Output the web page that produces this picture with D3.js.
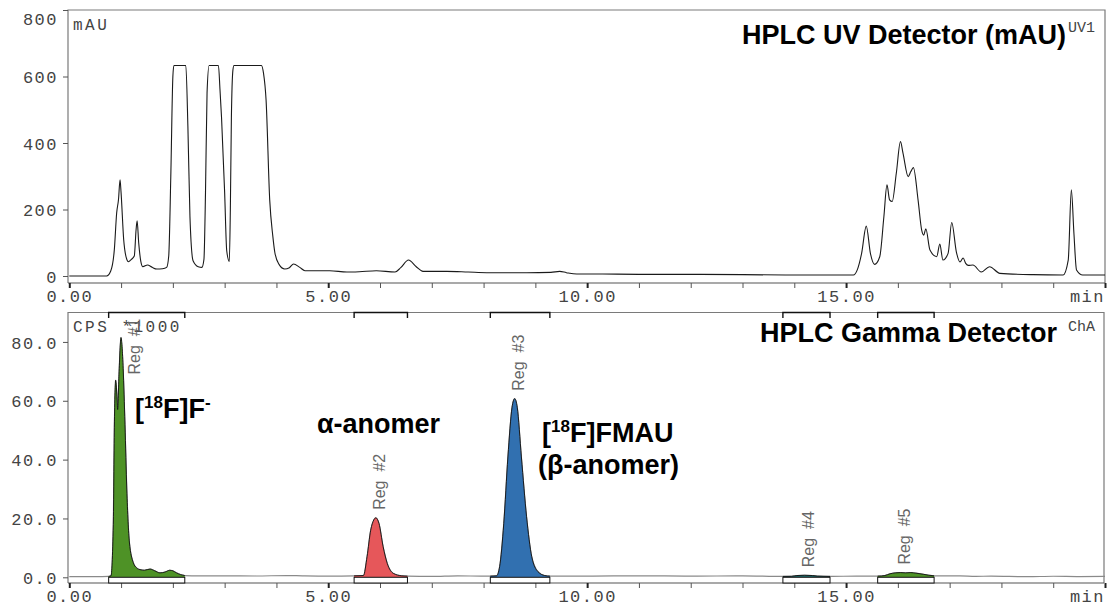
<!DOCTYPE html>
<html>
<head>
<meta charset="utf-8">
<script src="https://cdn.jsdelivr.net/npm/d3@7"></script>
<style>
  body { margin: 0; background: #fff; }
  svg { display: block; }
  .mono { font-family: "Liberation Mono", "DejaVu Sans Mono", monospace; }
  .big { font-family: "Liberation Sans", Arial, sans-serif; font-weight: bold; fill: #000; }
</style>
</head>
<body>
<svg id="chart" width="1109" height="606"></svg>
<script>
// ---- UV detector trace: retention time (min) and absorbance (mAU) ----
const uvTime = [0, 0.5, 0.72, 0.8, 0.87, 0.915, 0.95, 0.98, 1.0, 1.05, 1.1, 1.14, 1.2, 1.255, 1.29, 1.31, 1.34, 1.38, 1.42,
  1.51, 1.6, 1.69, 1.8, 1.88, 1.92, 1.96, 2.0, 2.02, 2.25, 2.29, 2.33, 2.39, 2.49, 2.56, 2.6, 2.63, 2.66, 2.70, 2.88, 2.91,
  2.94, 3.0, 3.04, 3.09, 3.11, 3.13, 3.16, 3.18, 3.71, 3.75, 3.80, 3.87, 3.93, 3.97, 4.05, 4.16, 4.25, 4.33, 4.45, 4.55,
  5.03, 5.36, 5.6, 5.93, 6.29, 6.4, 6.55, 6.7, 6.83, 7.29, 7.7, 8.06, 8.83, 9.3, 9.47, 9.6, 9.8, 10.25, 11, 12, 13, 14,
  15.14, 15.22, 15.30, 15.39, 15.47, 15.55, 15.65, 15.73, 15.79, 15.84, 15.89, 15.97, 16.05, 16.10, 16.20, 16.25, 16.30,
  16.39, 16.46, 16.50, 16.54, 16.62, 16.75, 16.81, 16.87, 16.97, 17.04, 17.13, 17.20, 17.26, 17.31, 17.36, 17.45, 17.61,
  17.77, 17.97, 18.61, 19.19, 19.29, 19.35, 19.40, 19.45, 19.57, 20];
const uvSignal = [0, 0, 0, 15, 80, 190, 230, 289, 250, 110, 55, 43, 50, 60, 140, 166, 100, 45, 28,
  33, 26, 21, 22, 26, 60, 300, 600, 633, 633, 450, 178, 46, 28, 26, 50, 250, 550, 633, 633, 560,
  476, 250, 76, 44, 200, 476, 620, 633, 633, 610, 529, 229, 120, 70, 35, 21, 25, 36, 26, 16,
  16, 12, 13, 16, 12, 25, 48, 28, 14, 14, 12, 10, 10, 11, 14, 10, 6, 6, 5, 5, 4, 3,
  3, 20, 68, 150, 68, 35, 58, 178, 274, 229, 224, 309, 404, 369, 299, 314, 326,
  229, 138, 123, 142, 78, 58, 96, 48, 68, 161, 72, 42, 54, 38, 32, 33, 12,
  28, 8, 4, 3, 48, 259, 128, 18, 3, 3];

// ---- Gamma detector trace: retention time (min) and count rate (CPS x1000) ----
const gammaTime = [0, 0.5, 0.76, 0.805, 0.85, 0.87, 0.895, 0.915, 0.934, 0.96, 0.998, 1.04, 1.075, 1.11, 1.16, 1.235,
  1.3, 1.365, 1.45, 1.56, 1.65, 1.75, 1.85, 1.94, 2.0, 2.07, 2.15, 2.23, 2.5, 3.0, 3.6, 4.2, 4.5, 5.0,
  5.5, 5.68, 5.75, 5.82, 5.88, 5.92, 5.98, 6.06, 6.14, 6.26, 6.42, 6.53, 7.0, 7.5, 8.0,
  8.13, 8.25, 8.31, 8.39, 8.47, 8.55, 8.60, 8.65, 8.73, 8.83, 8.93, 9.05, 9.18, 9.28, 10, 11, 12, 13,
  13.78, 13.95, 14.05, 14.2, 14.35, 14.45, 14.69, 15.2,
  15.61, 15.75, 15.85, 15.95, 16.05, 16.15, 16.25, 16.35, 16.5, 16.6, 16.70, 17.2, 17.5, 17.8, 18.5, 19.0, 19.5, 20];
const gammaSignal = [0.2, 0.2, 0.3, 0.5, 18, 51, 67, 63, 57, 69, 81.5, 71, 52, 30, 12, 5,
  3.2, 2.6, 2.4, 2.8, 2.2, 1.5, 1.8, 2.4, 2.2, 1.5, 0.9, 0.6, 0.5, 0.5, 0.45, 0.6, 0.5, 0.4,
  0.5, 0.6, 7, 16, 19.5, 20.2, 18.3, 10.4, 4.7, 1.3, 0.5, 0.4, 0.3, 0.5, 0.4,
  0.4, 0.5, 3.6, 18.3, 40.9, 57.8, 60.7, 57.8, 40.9, 20.6, 7, 1.9, 0.6, 0.4, 0.4, 0.5, 0.4, 0.5,
  0.3, 0.35, 0.6, 0.7, 0.6, 0.4, 0.3, 0.4,
  0.4, 0.6, 1.2, 1.5, 1.6, 1.5, 1.6, 1.4, 1.0, 0.7, 0.5, 0.5, 0.3, 0.4, 0.2, 0.35, 0.25, 0.3];

// ---- Integration regions ----
const regionLabels = ["Reg  #1", "Reg  #2", "Reg  #3", "Reg  #4", "Reg  #5"];
const regionStart = [0.76, 5.50, 8.13, 13.78, 15.61];
const regionEnd = [2.23, 6.53, 9.28, 14.69, 16.70];

// ---- Axis ticks ----
const uvTicks = [0, 200, 400, 600, 800];
const gammaTicks = [0, 20, 40, 60, 80];
const timeUnit = "min";

// region fill colours
const regionFill = ["#4e9226", "#e6575a", "#3170b0", "#1d6b6b", "#4e9226"];

const svg = d3.select("#chart");
const frameColor = "#7a7a7a";
const textGray = "#444";
const tickFont = 17;

const x = d3.scaleLinear().domain([0, 20]).range([69.3, 1105]);
const yU = d3.scaleLinear().domain([0, 800]).range([276, 10]);
const yG = d3.scaleLinear().domain([0, 90]).range([577.3, 312.5]);

function frame(g, top, bottom, right) {
  g.append("path")
    .attr("d", `M68,${bottom}V${top}H${right}V${bottom}`)
    .attr("fill", "none").attr("stroke", frameColor).attr("stroke-width", 1.2);
  g.append("line")
    .attr("x1", 68).attr("x2", right).attr("y1", bottom).attr("y2", bottom)
    .attr("stroke", "#555").attr("stroke-width", 1.2);
}

function timeAxis(g, yPos) {
  const ax = d3.axisBottom(x)
    .tickValues(d3.range(0, 21, 1))
    .tickSize(5)
    .tickPadding(2)
    .tickFormat(d => (d % 5 === 0 && d < 20) ? d.toFixed(2) : "");
  const a = g.append("g").attr("transform", `translate(0,${yPos})`).call(ax);
  a.select(".domain").remove();
  a.selectAll(".tick line")
    .attr("stroke", d => d % 5 === 0 ? "#222" : "#555")
    .attr("stroke-width", d => d % 5 === 0 ? 2 : 1);
  a.selectAll(".tick text")
    .attr("class", "mono").attr("fill", textGray)
    .style("font-size", tickFont + "px").style("letter-spacing", "1.5px");
  g.append("text").attr("class", "mono")
    .attr("x", 1105).attr("y", yPos + 7).attr("dy", "0.71em")
    .attr("text-anchor", "end").attr("fill", textGray)
    .style("font-size", tickFont + "px").style("letter-spacing", "1.5px")
    .text(timeUnit);
}

function valueAxis(g, scale, ticks, fmt, top) {
  const ax = d3.axisLeft(scale).tickValues(ticks).tickSize(5).tickPadding(5).tickFormat(fmt);
  const a = g.append("g").attr("transform", "translate(68,0)").call(ax);
  a.select(".domain").remove();
  a.selectAll(".tick line").attr("stroke", "#555");
  a.selectAll(".tick text")
    .attr("class", "mono").attr("fill", textGray)
    .style("font-size", tickFont + "px").style("letter-spacing", "1.5px")
    .attr("dy", "0.36em");
  // keep the topmost label inside the frame
  a.selectAll(".tick").each(function (d) {
    const yy = scale(d);
    if (yy < top + 8) d3.select(this).select("text").attr("y", top + 8 - yy);
  });
}

// ================= UV panel =================
const gU = svg.append("g");
frame(gU, 10, 283, 1105);
timeAxis(gU, 283);
valueAxis(gU, yU, uvTicks, d3.format(".0f"), 10);

const uvLine = d3.line()
  .x((d, i) => x(uvTime[i]))
  .y(d => yU(d))
  .curve(d3.curveMonotoneX);
gU.append("path")
  .attr("d", uvLine(uvSignal))
  .attr("fill", "none").attr("stroke", "#1a1a1a").attr("stroke-width", 1.1);

gU.append("text").attr("class", "mono").attr("x", 73).attr("y", 30)
  .attr("fill", textGray).style("font-size", "16px").style("letter-spacing", "2.5px").text("mAU");
gU.append("text").attr("class", "big").attr("x", 1066).attr("y", 44)
  .attr("text-anchor", "end").style("font-size", "27px").text("HPLC UV Detector (mAU)");
gU.append("text").attr("class", "mono").attr("x", 1068).attr("y", 32)
  .attr("fill", textGray).style("font-size", "15px").text("UV1");

// ================= Gamma panel =================
const gG = svg.append("g");
frame(gG, 312.5, 583, 1104);
timeAxis(gG, 583);
valueAxis(gG, yG, gammaTicks, d3.format(".1f"), 312.5);

const gammaPts = gammaTime.map((t, i) => ({ t, v: gammaSignal[i] }));
const gLine = d3.line().x(d => x(d.t)).y(d => yG(d.v)).curve(d3.curveMonotoneX);
const gArea = d3.area().x(d => x(d.t)).y0(yG(0)).y1(d => yG(d.v)).curve(d3.curveMonotoneX);

gG.append("path")
  .attr("d", gLine(gammaPts))
  .attr("fill", "none").attr("stroke", "#8a8a8a").attr("stroke-width", 1.2);

gG.append("text").attr("class", "mono").attr("x", 73).attr("y", 332)
  .attr("fill", textGray).style("font-size", "16px").style("letter-spacing", "2.5px")
  .style("white-space", "pre").text("CPS *1000");

regionLabels.forEach((lab, k) => {
  const pts = gammaPts.filter(p => p.t >= regionStart[k] - 1e-9 && p.t <= regionEnd[k] + 1e-9);
  gG.append("path").attr("d", gArea(pts)).attr("fill", regionFill[k]);
  gG.append("path").attr("d", gLine(pts))
    .attr("fill", "none").attr("stroke", "#111").attr("stroke-width", 0.9);

  const x0 = x(regionStart[k]), x1 = x(regionEnd[k]);
  // bracket along the top edge
  gG.append("path")
    .attr("d", `M${x0},318V312.5H${x1}V318`)
    .attr("fill", "none").attr("stroke", "#111").attr("stroke-width", 1.4);
  // marker box on the baseline
  gG.append("rect")
    .attr("x", x0).attr("y", yG(0)).attr("width", x1 - x0).attr("height", 583 - yG(0))
    .attr("fill", "#fff").attr("stroke", "#111").attr("stroke-width", 1);

  // label above the apex
  const apex = pts.reduce((a, b) => (b.v > a.v ? b : a));
  const t = gG.append("text")
    .style("font-family", "Liberation Sans, Arial, sans-serif")
    .style("font-size", "16px").style("white-space", "pre").attr("fill", "#666")
    .text(lab);
  const len = t.node().getComputedTextLength();
  let base = yG(apex.v) - 8;
  let bx = x(apex.t) + 9.5;
  if (base - len < 312.5 + 6) { base = 312.5 + 6 + len; bx += 10; }
  t.attr("transform", `translate(${bx},${base}) rotate(-90)`);
});

gG.append("text").attr("class", "big").attr("x", 1057).attr("y", 342)
  .attr("text-anchor", "end").style("font-size", "27px").text("HPLC Gamma Detector");
gG.append("text").attr("class", "mono").attr("x", 1068).attr("y", 331)
  .attr("fill", textGray).style("font-size", "15px").text("ChA");

// compound annotations
function isotopeLabel(g, xPos, yPos, parts) {
  const t = g.append("text").attr("class", "big").attr("x", xPos).attr("y", yPos).style("font-size", "27px");
  parts.forEach(p => {
    const s = t.append("tspan").text(p.s);
    if (p.sup) s.style("font-size", "17px").attr("dy", "-10");
    if (p.down) s.attr("dy", "10");
  });
}
isotopeLabel(gG, 135, 418, [{ s: "[" }, { s: "18", sup: true }, { s: "F]F", down: true }, { s: "-", sup: true }]);
gG.append("text").attr("class", "big").attr("x", 317).attr("y", 433).style("font-size", "27px").text("α-anomer");
isotopeLabel(gG, 542, 442, [{ s: "[" }, { s: "18", sup: true }, { s: "F]FMAU", down: true }]);
gG.append("text").attr("class", "big").attr("x", 538).attr("y", 474).style("font-size", "27px").text("(β-anomer)");
</script>
</body>
</html>
